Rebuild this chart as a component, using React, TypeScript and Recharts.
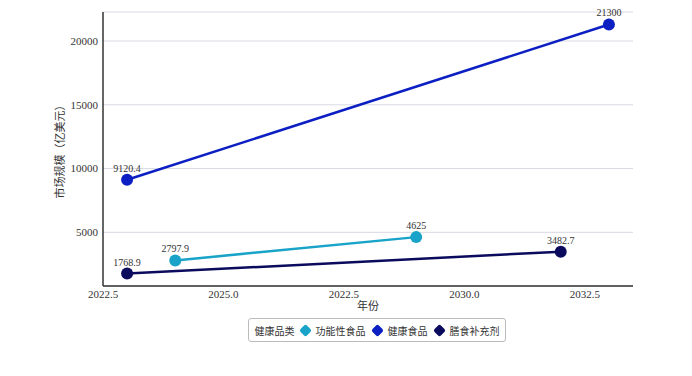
import React from 'react';
import { LineChart, Line, XAxis, YAxis, CartesianGrid, LabelList, Label } from 'recharts';

const seriesNames = ['功能性食品', '健康食品', '膳食补充剂'];
const seriesColors = ['#19a3c8', '#0c1fc2', '#0b0b5e'];
const functionalYears = [2024, 2029];
const functionalValues = [2797.9, 4625];
const healthYears = [2023, 2033];
const healthValues = [9120.4, 21300];
const supplementYears = [2023, 2032];
const supplementValues = [1768.9, 3482.7];
const xTicks = [2022.5, 2025, 2027.5, 2030, 2032.5];
const xTickLabels = ['2022.5', '2025.0', '2022.5', '2030.0', '2032.5'];
const yTicks = [5000, 10000, 15000, 20000];
const legendTitle = '健康品类';
const xTitle = '年份';
const yTitle = '市场规模（亿美元）';

const build = (xs: number[], ys: number[]) => xs.map((x, i) => ({ year: x, value: ys[i] }));
const seriesData = [
  build(functionalYears, functionalValues),
  build(healthYears, healthValues),
  build(supplementYears, supplementValues),
];

const serif = '"Liberation Serif", "DejaVu Serif", "Noto Sans CJK SC", serif';
const cjk = '"Noto Sans CJK SC", sans-serif';

export default function App() {
  return (
    <div style={{ position: 'absolute', left: 0, top: 0, width: 692, height: 376, background: '#fff' }}>
      <LineChart width={692} height={376} margin={{ top: 12, right: 59, bottom: 50, left: 46 }}>
        <CartesianGrid vertical={false} stroke="#d9d9e3" strokeWidth={1} />
        <XAxis
          type="number"
          dataKey="year"
          domain={[2022.5, 2033.5]}
          ticks={xTicks}
          allowDataOverflow
          tickFormatter={(v: number) => xTickLabels[xTicks.indexOf(v)] ?? String(v)}
          tickLine={false}
          tickSize={2}
          height={40}
          axisLine={{ stroke: '#333', strokeWidth: 1.5 }}
          tick={{ fill: '#333', fontSize: 11, fontFamily: serif }}
        >
          <Label value={xTitle} position="insideTop" offset={16} style={{ fill: '#333', fontSize: 11, fontFamily: cjk }} />
        </XAxis>
        <YAxis
          type="number"
          dataKey="value"
          domain={[792.3, 22276.6]}
          ticks={yTicks}
          allowDataOverflow
          width={57}
          tickLine={false}
          tickSize={3}
          axisLine={{ stroke: '#333', strokeWidth: 1.5 }}
          tick={{ fill: '#333', fontSize: 11, fontFamily: serif }}
        >
          <Label value={yTitle} angle={-90} position="insideLeft" offset={14} style={{ fill: '#333', fontSize: 11, fontFamily: cjk, textAnchor: 'middle' }} />
        </YAxis>
        {seriesData.map((d, i) => (
          <Line
            key={seriesNames[i]}
            data={d}
            dataKey="value"
            name={seriesNames[i]}
            stroke={seriesColors[i]}
            strokeWidth={2.5}
            dot={{ r: 6, fill: seriesColors[i], stroke: seriesColors[i], strokeWidth: 0 }}
            activeDot={false}
            isAnimationActive={false}
          >
            <LabelList dataKey="value" position="top" offset={8} style={{ fill: '#333', fontSize: 10, fontFamily: serif }} />
          </Line>
        ))}
      </LineChart>
      <div
        style={{
          position: 'absolute',
          left: 248,
          top: 318,
          width: 258,
          height: 24,
          boxSizing: 'border-box',
          border: '1px solid #bbb',
          borderRadius: 3,
          display: 'flex',
          alignItems: 'center',
          justifyContent: 'center',
          fontFamily: cjk,
          fontSize: 10,
          color: '#333',
          whiteSpace: 'nowrap',
        }}
      >
        <span style={{ marginRight: 4 }}>{legendTitle}</span>
        {seriesNames.map((n, i) => (
          <span key={n} style={{ display: 'flex', alignItems: 'center', marginRight: i < 2 ? 5 : 0 }}>
            <span
              style={{
                display: 'inline-block',
                width: 9,
                height: 9,
                background: seriesColors[i],
                transform: 'rotate(45deg)',
                borderRadius: 2,
                marginRight: 6,
                marginLeft: 2,
              }}
            />
            {n}
          </span>
        ))}
      </div>
    </div>
  );
}
